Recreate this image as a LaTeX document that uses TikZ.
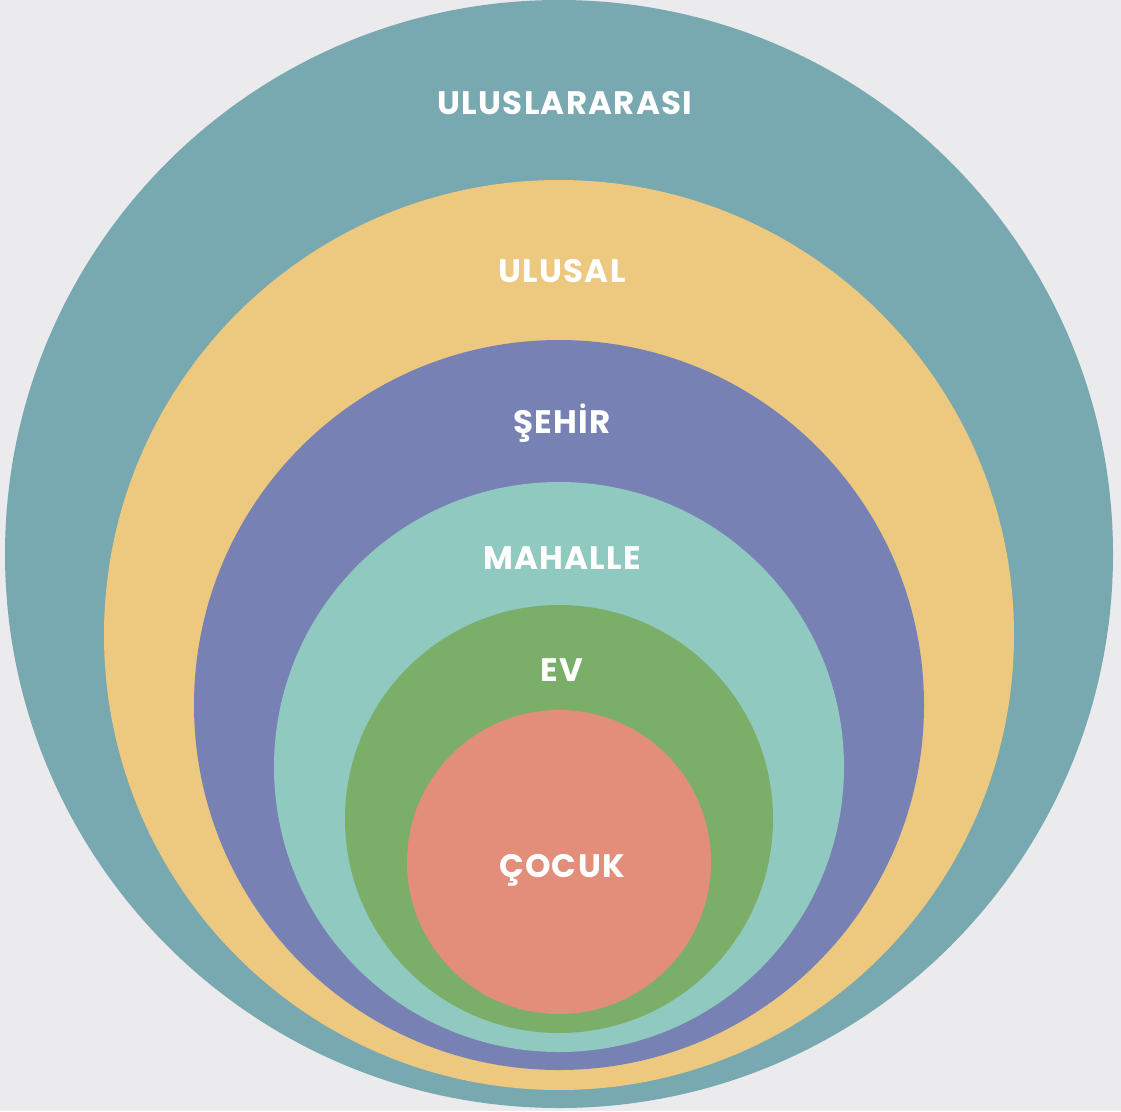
\documentclass[tikz,border=0pt]{standalone}
\usepackage{fontspec}
\setmainfont{Poppins}
\newfontfamily\lblfont[LetterSpace=4]{Poppins}
\definecolor{bg}{HTML}{EBEBED}
\definecolor{cA}{HTML}{78A8B0}
\definecolor{cB}{HTML}{ECC97F}
\definecolor{cC}{HTML}{7881B4}
\definecolor{cD}{HTML}{8FC9BF}
\definecolor{cE}{HTML}{7BAE69}
\definecolor{cF}{HTML}{E38D7B}
\begin{document}
\begin{tikzpicture}[x=1pt,y=-1pt,
  ring/.style={circle,inner sep=0pt,minimum size=#1},
  lbl/.style={text=white,font=\lblfont\bfseries\fontsize{32.5}{32.5}\selectfont,anchor=base,inner sep=0pt}]
\fill[bg] (0,0) rectangle (1121,1111);
\node[ring=1108pt,fill=cA] (c1) at (559,554) {};
\node[ring=910pt,fill=cB] (c2) at (559,635) {};
\node[ring=730pt,fill=cC] (c3) at (559,705) {};
\node[ring=570pt,fill=cD] (c4) at (559,767) {};
\node[ring=428pt,fill=cE] (c5) at (559,819) {};
\node[ring=304pt,fill=cF] (c6) at (559,862) {};
\node[lbl] (t1) at (565,114) {ULUSLARARASI};
\node[lbl] (t2) at (562,282) {ULUSAL};
\node[lbl] (t3) at (562,433) {ŞEHİR};
\node[lbl] (t4) at (562,569) {MAHALLE};
\node[lbl] (t5) at (562,681) {EV};
\node[lbl] (t6) at (562,877) {ÇOCUK};
\end{tikzpicture}
\end{document}
